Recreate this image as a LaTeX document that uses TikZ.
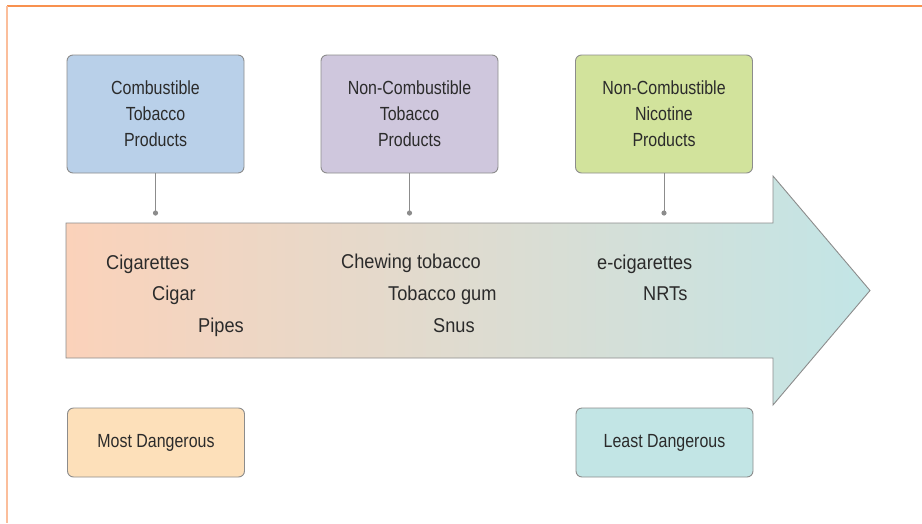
\documentclass[tikz,border=0pt]{standalone}
\usepackage{fontspec}
\newfontfamily\boxfont[FakeStretch=0.84]{Liberation Sans}
\newfontfamily\itemfont[FakeStretch=0.91]{Liberation Sans}
\definecolor{frametop}{HTML}{F8914F}
\definecolor{frameleft}{HTML}{FBBE9B}
\definecolor{edgegray}{HTML}{8C8C8C}
\definecolor{fillA}{HTML}{B9D0E9}
\definecolor{fillB}{HTML}{CFC7DD}
\definecolor{fillC}{HTML}{D2E39C}
\definecolor{fillMost}{HTML}{FDE0BA}
\definecolor{fillLeast}{HTML}{C2E5E5}
\definecolor{arrowL}{HTML}{FBD2BA}
\definecolor{arrowR}{HTML}{C2E5E6}
\definecolor{txt}{HTML}{2B2B2B}
\tikzset{
  catbox/.style={draw=edgegray, line width=0.9pt, rounded corners=6pt, minimum width=177pt, minimum height=118pt, inner sep=0pt, align=center, text=txt, font=\boxfont\fontsize{19}{26}\selectfont},
  dangerbox/.style={draw=edgegray, line width=0.9pt, rounded corners=6pt, minimum width=177pt, minimum height=69pt, inner sep=0pt, align=center, text=txt, font=\boxfont\fontsize{19}{26}\selectfont},
  itemtext/.style={anchor=base west, inner sep=0pt, text=txt, font=\itemfont\fontsize{20}{24}\selectfont},
  link/.style={draw=edgegray, line width=1pt},
  linkdot/.style={fill=edgegray, draw=none}
}
\begin{document}
\begin{tikzpicture}[x=1pt,y=-1pt]
\useasboundingbox (0,0) rectangle (922,523);
% frame
\draw[frametop, line width=1.6pt] (7,6) -- (922,6);
\draw[frameleft, line width=1.6pt] (7,6) -- (7,523);
% arrow
\path[left color=arrowL, right color=arrowR, draw=edgegray, line width=0.9pt]
  (66,223) -- (773,223) -- (773,176) -- (870,290.5) -- (773,405) -- (773,358) -- (66,358) -- cycle;
% category boxes
\node[catbox, fill=fillA] (comb) at (155.5,114) {Combustible\\Tobacco\\Products};
\node[catbox, fill=fillB] (ncomb) at (409.5,114) {Non-Combustible\\Tobacco\\Products};
\node[catbox, fill=fillC] (nnic) at (664,114) {Non-Combustible\\Nicotine\\Products};
% connector end points
\coordinate (d1) at (155.5,213);
\coordinate (d2) at (409.5,213);
\coordinate (d3) at (664,213);
\draw[link] (comb.south) -- (d1);
\draw[link] (ncomb.south) -- (d2);
\draw[link] (nnic.south) -- (d3);
\fill[linkdot] (d1) circle (2.6pt);
\fill[linkdot] (d2) circle (2.6pt);
\fill[linkdot] (d3) circle (2.6pt);
% items
\node[itemtext] (cig) at (106,269) {Cigarettes};
\node[itemtext] (cigar) at (152,300) {Cigar};
\node[itemtext] (pipes) at (198,332) {Pipes};
\node[itemtext] (chew) at (341,268) {Chewing tobacco};
\node[itemtext] (gum) at (388,300) {Tobacco gum};
\node[itemtext] (snus) at (433,332) {Snus};
\node[itemtext] (ecig) at (597,269) {e-cigarettes};
\node[itemtext] (nrt) at (643,300) {NRTs};
% danger boxes
\node[dangerbox, fill=fillMost] (most) at (156,442.5) {Most Dangerous};
\node[dangerbox, fill=fillLeast] (least) at (664.5,442.5) {Least Dangerous};
\end{tikzpicture}
\end{document}
